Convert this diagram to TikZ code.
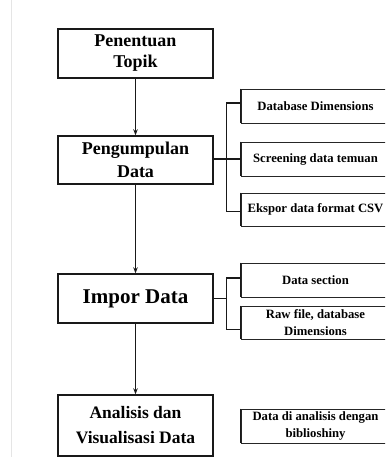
\documentclass[tikz,border=0pt]{standalone}
\usepackage{fontspec}
\setmainfont{Liberation Serif}
\usetikzlibrary{arrows.meta}
\begin{document}
\begin{tikzpicture}[x=1pt,y=-1pt,
  mainbox/.style={draw=black!90,line width=1.4pt,minimum width=155pt,align=center,inner sep=0pt,font=\bfseries},
  subbox/.style={draw=black!85,line width=0.9pt,minimum width=149pt,minimum height=34pt,align=center,inner sep=0pt,font=\bfseries\fontsize{12.7}{16.5}\selectfont},
  flow/.style={line width=1.4pt,draw=black!90,-{Stealth[length=6pt,width=4.5pt]}},
  bus/.style={line width=1.2pt,draw=black!90}]
\useasboundingbox (0,0) rectangle (385,457);
\clip (0,0) rectangle (385,457);
\fill[white] (0,0) rectangle (385,457);
\draw[black!10,line width=0.8pt] (11,0) -- (11,457);
% main boxes
\node[mainbox,minimum height=49pt,font=\bfseries\fontsize{18}{21}\selectfont] (b1) at (135.5,53.5) {Penentuan\\Topik};
\node[mainbox,minimum height=48pt,font=\bfseries\fontsize{18}{23}\selectfont] (b2) at (135.5,160) {Pengumpulan\\Data};
\node[mainbox,minimum height=49pt,font=\bfseries\fontsize{21}{24}\selectfont] (b3) at (135.5,298.5) {Impor Data};
\node[mainbox,minimum height=61pt,font=\bfseries\fontsize{17.5}{25}\selectfont] (b4) at (135.5,425.5) {Analisis dan\\Visualisasi Data};
% sub boxes
\node[subbox] (r1) at (315.5,106) {Database Dimensions};
\node[subbox] (r2) at (315.5,159) {Screening data temuan};
\node[subbox,minimum height=33pt] (r3) at (315.5,209.5) {Ekspor data format CSV};
\node[subbox] (r4) at (315.5,280) {Data section};
\node[subbox,minimum height=33pt] (r5) at (315.5,322.5) {Raw file, database\\Dimensions};
\node[subbox] (r6) at (315.5,426) {Data di analisis dengan\\biblioshiny};
% thicker left edges of sub boxes
\foreach \r in {r1,r2,r3,r4,r5,r6}
  \draw[line width=1.7pt,black!90] (\r.north west) -- (\r.south west);
% flow arrows
\draw[flow] (b1) -- (b2);
\draw[flow] (b2) -- (b3);
\draw[flow] (b3) -- (b4);
% brackets
\coordinate (c1) at ([yshift=3pt]r1.west);
\coordinate (c3) at ([yshift=-2pt]r3.west);
\draw[bus] (c1) -- ++(-14,0) |- (c3);
\draw[bus] (b2.east |- r2.west) -- (r2.west);
\coordinate (c4) at ([yshift=2pt]r4.west);
\coordinate (c5) at ([yshift=-7pt]r5.west);
\draw[bus] (c4) -- ++(-14,0) coordinate (k4) |- (c5);
\draw[bus] (b3.east) -- (k4 |- b3.east);
\end{tikzpicture}
\end{document}
